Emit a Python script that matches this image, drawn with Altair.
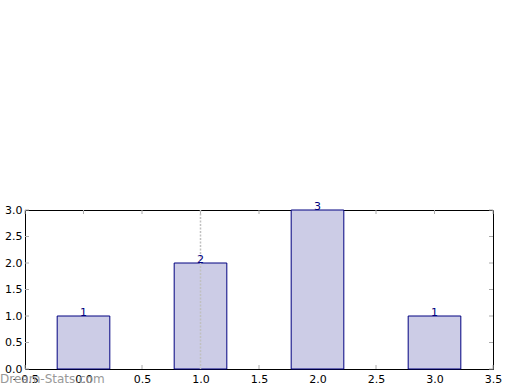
import altair as alt
import pandas as pd

positions = [0, 1, 2, 3]
counts = [1, 2, 3, 1]
labels = ["1", "2", "3", "1"]
x_ticks = [-0.5, 0.0, 0.5, 1.0, 1.5, 2.0, 2.5, 3.0, 3.5]
y_ticks = [0.0, 0.5, 1.0, 1.5, 2.0, 2.5, 3.0]
vline_x = [1.0]
bar_width = 0.45

df = pd.DataFrame({"x": positions, "count": counts, "label": labels})
xt = pd.DataFrame({"t": x_ticks})
yt = pd.DataFrame({"t": y_ticks})
vl = pd.DataFrame({"x": vline_x})

W, H = 468, 159
xscale = alt.Scale(domain=[-0.5, 3.5], nice=False, zero=False)
yscale = alt.Scale(domain=[0, 3], nice=False)
font = "DejaVu Sans"

xaxis = alt.Axis(values=x_ticks, format=".1f", tickSize=0, domain=False, grid=False,
                 labelFont=font, labelFontSize=11, labelColor="black", labelPadding=4,
                 title=None, labelFlush=False, labelOverlap=False)
yaxis = alt.Axis(values=y_ticks, format=".1f", tickSize=0, domain=False, grid=False,
                 labelFont=font, labelFontSize=11, labelColor="black", labelPadding=3,
                 title=None, labelFlush=False, labelOverlap=False)

bars = alt.Chart(df).transform_calculate(
    x0=f"datum.x - {bar_width/2}", x1=f"datum.x + {bar_width/2}"
).mark_rect(fill="#ccccE6", stroke="#000080", strokeWidth=1).encode(
    x=alt.X("x0:Q", scale=xscale, axis=xaxis),
    x2="x1:Q",
    y=alt.Y("count:Q", scale=yscale, axis=yaxis),
    y2=alt.datum(0),
)

vline = alt.Chart(vl).mark_rule(color="#c0c0c0", strokeDash=[2, 1.5], strokeWidth=1.5).encode(
    x=alt.X("x:Q", scale=xscale, axis=xaxis), y=alt.value(0), y2=alt.value(H)
)

text = alt.Chart(df).mark_text(font=font, fontSize=11, color="#000080", baseline="alphabetic", dy=0).encode(
    x=alt.X("x:Q", scale=xscale, axis=xaxis), y=alt.Y("count:Q", scale=yscale, axis=yaxis), text="label:N"
)

tick_color = "#aaaaaa"
xb = alt.Chart(xt).mark_rule(color=tick_color).encode(
    x=alt.X("t:Q", scale=xscale, axis=xaxis), y=alt.value(H - 4), y2=alt.value(H))
xtp = alt.Chart(xt).mark_rule(color=tick_color).encode(
    x=alt.X("t:Q", scale=xscale, axis=xaxis), y=alt.value(0), y2=alt.value(4))
yl = alt.Chart(yt).mark_rule(color=tick_color).encode(
    y=alt.Y("t:Q", scale=yscale, axis=yaxis), x=alt.value(0), x2=alt.value(4))
yr = alt.Chart(yt).mark_rule(color=tick_color).encode(
    y=alt.Y("t:Q", scale=yscale, axis=yaxis), x=alt.value(W - 4), x2=alt.value(W))

wm = alt.Chart(pd.DataFrame({"t": ["Dream-Stats.com"]})).mark_text(
    font=font, fontSize=12, fontWeight="normal", color="#999999", align="left", baseline="alphabetic"
).encode(x=alt.value(-25), y=alt.value(H + 14), text="t:N")

chart = alt.layer(xb, xtp, yl, yr, bars, vline, text, wm).properties(
    width=W, height=H,
    padding={"left": 25, "top": 210, "right": 27, "bottom": 21},
    autosize=alt.AutoSizeParams(type="none"),
).configure_view(stroke="black", strokeWidth=1).configure_axis(labelOverlap=False)

chart.save("out.html", embed_options={"renderer": "svg", "actions": False})
